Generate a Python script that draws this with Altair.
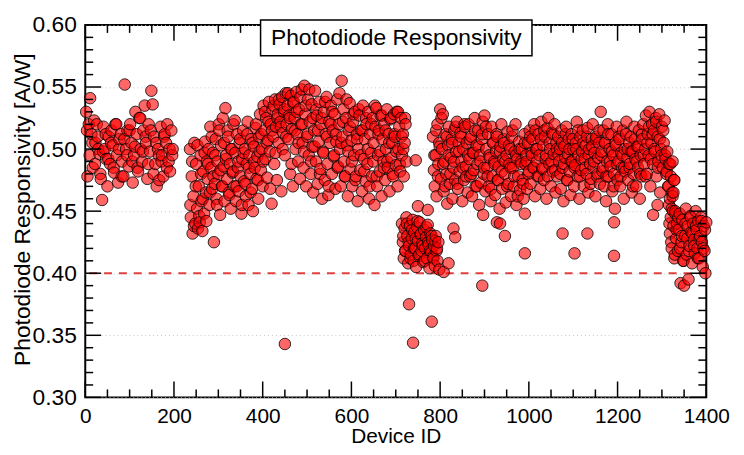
import altair as alt
import pandas as pd

# ---- data: photodiode responsivity in thousandths of A/W, grouped by device-ID runs ----
# run A: devices 2..197 every 3rd device
resp_a = [530, 478, 520, 541, 512, 485, 523, 505, 520, 500,
          496, 476, 459, 518, 500, 492, 470, 510, 488, 515,
          503, 481, 520, 495, 473, 508, 512, 490, 478, 552,
          500, 515, 486, 520, 505, 473, 495, 530, 512, 482,
          525, 500, 490, 515, 535, 505, 476, 520, 498, 547,
          536, 510, 488, 470, 500, 475, 518, 495, 478, 512,
          505, 520, 490, 482, 515, 500]
# run A2: devices 4..196 every 6th device
resp_a2 = [515, 495, 505, 488, 510, 480, 498, 512, 492, 505,
           485, 520, 500, 478, 508, 495, 515, 490, 502, 485,
           525, 498, 510, 488, 515, 480, 505, 495, 490, 510,
           485, 500, 495]
# run B: devices 236..724 every 2nd device
resp_b = [500, 445, 478, 432, 462, 505, 440, 488, 452, 436,
          470, 441, 495, 458, 434, 482, 448, 506, 465, 490,
          476, 500, 455, 518, 485, 468, 497, 425, 472, 508,
          460, 490, 480, 515, 447, 503, 470, 525, 486, 458,
          533, 495, 476, 510, 465, 488, 452, 500, 481, 520,
          470, 497, 458, 512, 485, 466, 505, 478, 448, 492,
          515, 474, 500, 462, 488, 522, 455, 495, 480, 508,
          468, 450, 502, 485, 517, 476, 494, 460, 510, 528,
          483, 500, 470, 535, 515, 492, 525, 477, 507, 538,
          498, 520, 456, 532, 510, 488, 540, 518, 475, 528,
          505, 536, 522, 466, 542, 513, 530, 495, 545, 520,
          535, 508, 527, 480, 543, 516, 470, 538, 525, 500,
          546, 512, 490, 532, 476, 520, 548, 505, 485, 551,
          528, 470, 510, 540, 495, 522, 480, 536, 502, 465,
          515, 547, 490, 527, 472, 506, 538, 484, 520, 460,
          498, 530, 475, 512, 542, 488, 463, 522, 505, 535,
          480, 515, 494, 528, 468, 506, 540, 486, 520, 500,
          470, 555, 510, 532, 490, 478, 525, 503, 462, 515,
          537, 484, 507, 470, 522, 495, 530, 478, 512, 458,
          500, 527, 483, 515, 466, 535, 492, 508, 474, 520,
          488, 530, 460, 512, 497, 478, 525, 505, 455, 518,
          533, 470, 495, 515, 482, 527, 462, 508, 490, 520,
          475, 500, 532, 485, 512, 466, 524, 493, 505, 478,
          528, 510, 487, 530, 470, 500, 518, 482, 525, 495,
          512, 478, 505, 520, 490]
# run B2: devices 237..721 every 4th device
resp_b2 = [455, 490, 438, 470, 503, 446, 480, 460, 497, 442,
           488, 465, 510, 478, 495, 455, 520, 483, 470, 505,
           492, 515, 463, 500, 482, 523, 470, 490, 508, 455,
           497, 472, 512, 485, 465, 505, 490, 520, 475, 498,
           512, 490, 530, 505, 522, 468, 515, 535, 497, 525,
           540, 518, 500, 532, 510, 545, 525, 488, 537, 515,
           530, 505, 542, 520, 498, 535, 512, 548, 490, 525,
           502, 532, 515, 480, 525, 497, 538, 510, 470, 520,
           530, 495, 512, 485, 545, 505, 522, 478, 540, 498,
           518, 490, 528, 475, 508, 532, 495, 515, 482, 525,
           500, 470, 520, 490, 535, 478, 512, 498, 527, 485,
           515, 490, 505, 525, 480, 512, 498, 530, 488, 510,
           500, 525]
# run C: low cluster, devices 714..798 every 2nd device
resp_c = [440, 425, 412, 436, 418, 445, 430, 408, 422, 438,
          415, 428, 443, 410, 433, 420, 405, 437, 426, 414,
          441, 431, 418, 424, 409, 435, 420, 429, 412, 439,
          423, 404, 432, 417, 427, 413, 422, 406, 430, 418,
          410, 425, 403]
# run C2: devices 717..793 every 4th device
resp_c2 = [430, 418, 440, 425, 412, 435, 420, 428, 442, 415,
           432, 422, 410, 437, 425, 418, 430, 412, 426, 420]
# run D: devices 784..1330 every 2nd device
resp_d = [510, 483, 470, 495, 462, 520, 488, 505, 532, 476,
          500, 528, 466, 490, 512, 480, 456, 503, 518, 472,
          493, 508, 460, 485, 515, 475, 498, 522, 468, 505,
          482, 513, 490, 458, 500, 475, 518, 486, 505, 465,
          520, 492, 478, 510, 462, 497, 483, 525, 470, 503,
          488, 515, 455, 495, 473, 508, 522, 480, 527, 466,
          500, 485, 512, 470, 493, 458, 518, 478, 505, 490,
          463, 498, 510, 475, 486, 452, 502, 520, 468, 492,
          505, 480, 457, 495, 514, 472, 488, 500, 462, 510,
          485, 470, 498, 520, 455, 492, 478, 506, 467, 490,
          500, 475, 460, 512, 488, 495, 468, 505, 482, 515,
          472, 497, 508, 485, 520, 462, 500, 490, 478, 512,
          495, 468, 522, 484, 503, 475, 510, 492, 460, 517,
          525, 488, 500, 470, 513, 482, 496, 520, 465, 505,
          478, 510, 490, 500, 468, 515, 485, 458, 502, 493,
          518, 475, 496, 508, 482, 463, 512, 490, 500, 470,
          487, 505, 522, 478, 495, 460, 510, 483, 498, 515,
          470, 492, 503, 480, 517, 465, 500, 488, 476, 508,
          520, 485, 497, 462, 510, 478, 493, 505, 472, 530,
          498, 482, 515, 470, 505, 458, 490, 520, 478, 500,
          486, 512, 466, 495, 480, 452, 503, 518, 475, 490,
          508, 470, 497, 485, 515, 460, 500, 482, 522, 493,
          475, 505, 488, 510, 465, 498, 480, 518, 492, 470,
          502, 485, 515, 460, 495, 478, 508, 520, 488, 500,
          527, 480, 512, 495, 530, 470, 505, 520, 488, 515,
          498, 525, 478, 510, 490, 528, 465, 500, 518, 485,
          505, 523, 492, 480, 498, 470, 488, 460, 478, 452,
          490, 465, 475, 448]
# run D2: devices 787..1327 every 4th device
resp_d2 = [495, 515, 478, 502, 525, 488, 470, 510, 495, 480,
           505, 490, 518, 472, 498, 510, 485, 520, 478, 495,
           508, 480, 497, 515, 470, 502, 490, 512, 485, 518,
           478, 495, 468, 505, 488, 512, 475, 498, 482, 508,
           490, 470, 503, 485, 515, 478, 495, 462, 500, 488,
           472, 505, 490, 480, 510, 495, 485, 515, 500, 478,
           508, 485, 515, 495, 478, 505, 490, 512, 483, 500,
           495, 480, 505, 488, 512, 475, 500, 490, 508, 485,
           500, 515, 478, 492, 505, 485, 510, 495, 472, 502,
           490, 508, 480, 515, 495, 485, 505, 478, 512, 490,
           498, 470, 505, 488, 510, 478, 495, 485, 512, 500,
           485, 498, 470, 508, 490, 502, 480, 512, 495, 478,
           505, 518, 492, 512, 500, 522, 485, 508, 495, 515,
           495, 482, 470, 488, 465, 475]
# run E: devices 1316..1400 every 2nd device
resp_e = [455, 432, 445, 420, 462, 438, 412, 450, 428, 440,
          418, 435, 448, 392, 425, 443, 410, 390, 430, 452,
          415, 438, 395, 422, 446, 433, 408, 440, 427, 416,
          450, 435, 420, 442, 412, 430, 445, 425, 405, 438,
          418, 400, 441]
# run E2: devices 1317..1397 every 4th device
resp_e2 = [440, 425, 450, 415, 435, 445, 420, 430, 410, 440,
           428, 418, 445, 432, 422, 438, 412, 428, 442, 420, 435]
# isolated devices
out_ids = [450, 730, 781, 739, 895, 750, 772, 808, 819, 830, 834, 745,
           897, 928, 935, 946, 991, 991, 1076, 1103, 1132, 1192, 1192, 1280, 1290]
out_vals = [343, 375, 361, 344, 390, 454, 451, 401, 408, 436, 429, 491,
            447, 441, 440, 430, 448, 416, 432, 416, 432, 414, 441, 447, 455]

x_major = [0, 200, 400, 600, 800, 1000, 1200, 1400]
x_minor = [50, 100, 150, 250, 300, 350, 450, 500, 550, 650, 700, 750,
           850, 900, 950, 1050, 1100, 1150, 1250, 1300, 1350]
y_major = [0.30, 0.35, 0.40, 0.45, 0.50, 0.55, 0.60]
y_minor = [0.31, 0.32, 0.33, 0.34, 0.36, 0.37, 0.38, 0.39, 0.41, 0.42, 0.43, 0.44,
           0.46, 0.47, 0.48, 0.49, 0.51, 0.52, 0.53, 0.54, 0.56, 0.57, 0.58, 0.59]
threshold = 0.40
title_text = "Photodiode Responsivity"

# ---- build tables ----
runs = [(2, 3, resp_a), (4, 6, resp_a2), (236, 2, resp_b), (237, 4, resp_b2),
        (714, 2, resp_c), (717, 4, resp_c2), (784, 2, resp_d), (787, 4, resp_d2),
        (1316, 2, resp_e), (1317, 4, resp_e2)]
rows = []
for start, step, vals in runs:
    for i, v in enumerate(vals):
        rows.append((start + i * step, v / 1000))
for d, v in zip(out_ids, out_vals):
    rows.append((d, v / 1000))
points = pd.DataFrame(rows, columns=["device", "resp"]).sort_values("device", kind="stable")

W, H = 627, 376
FONT = "Liberation Sans"
xs = alt.Scale(domain=[0, 1400], nice=False, zero=False)
ys = alt.Scale(domain=[0.30, 0.60], nice=False, zero=False)

x_axis = alt.Axis(values=x_major, format="d", ticks=False, tickSize=0, domain=False,
                  grid=False, labelFontSize=21, labelPadding=8, labelColor="black",
                  labelFlush=False, title="Device ID", titleFontSize=21,
                  titleFontWeight="normal", titleColor="black",
                  titleBaseline="alphabetic", titleY=46)
y_axis = alt.Axis(values=y_major, format=".2f", ticks=False, tickSize=0, domain=False,
                  grid=True, gridDash=[1, 3], gridColor="#c8c8c8", gridWidth=1,
                  labelFontSize=23, labelPadding=9, labelColor="black", labelFlush=False,
                  title="Photodiode Responsivity [A/W]", titleFontSize=23,
                  titleFontWeight="normal", titleColor="black",
                  titleBaseline="alphabetic", titleX=-56, titleY=186)

X = lambda: alt.X("device:Q", scale=xs, axis=x_axis)
Y = lambda: alt.Y("resp:Q", scale=ys, axis=y_axis)

thr = alt.Chart(pd.DataFrame({"resp": [threshold]})).mark_rule(
    color="#e0403f", strokeWidth=2, strokeDash=[8, 7]
).encode(y=Y())

pts = alt.Chart(points).mark_circle(
    size=135, color="#ff0000", opacity=1, fillOpacity=0.6,
    stroke="black", strokeWidth=1, strokeOpacity=0.8
).encode(x=X(), y=Y())

def xticks(vals, length):
    df = pd.DataFrame({"device": vals})
    bottom = alt.Chart(df).mark_rule(color="black", strokeWidth=1.5).encode(
        x=X(), y=alt.value(H), y2=alt.value(H - length))
    top = alt.Chart(df).mark_rule(color="black", strokeWidth=1.5).encode(
        x=X(), y=alt.value(0), y2=alt.value(length))
    return [bottom, top]

def yticks(vals, length):
    df = pd.DataFrame({"resp": vals})
    left = alt.Chart(df).mark_rule(color="black", strokeWidth=1.5).encode(
        y=Y(), x=alt.value(0), x2=alt.value(length))
    right = alt.Chart(df).mark_rule(color="black", strokeWidth=1.5).encode(
        y=Y(), x=alt.value(W), x2=alt.value(W - length))
    return [left, right]

ticks = xticks(x_major, 16) + xticks(x_minor, 8) + yticks(y_major, 16) + yticks(y_minor, 8)

tdf = pd.DataFrame({"t": [title_text]})
box = alt.Chart(tdf).mark_rect(fill="white", stroke="black", strokeWidth=1.5).encode(
    x=alt.value(177), x2=alt.value(451), y=alt.value(-5), y2=alt.value(31))
ttl = alt.Chart(tdf).mark_text(fontSize=23, font=FONT, color="black",
                               align="center", baseline="alphabetic").encode(
    x=alt.value(314), y=alt.value(20), text="t:N")

chart = alt.layer(thr, pts, *ticks, box, ttl).properties(
    width=W, height=H,
    padding={"left": 78, "top": 15, "right": 30, "bottom": 48},
    autosize=alt.AutoSizeParams(type="none"),
).configure(font=FONT, background="white").configure_view(
    stroke="black", strokeWidth=2, fill="white")

chart.save("out.html", embed_options={"renderer": "svg", "actions": False})
